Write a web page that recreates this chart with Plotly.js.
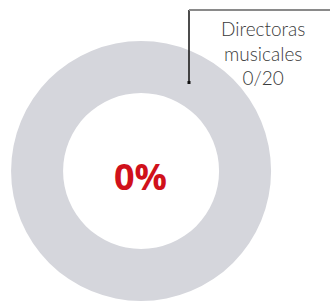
<!DOCTYPE html>
<html>
<head>
<meta charset="utf-8">
<script src="https://cdn.plot.ly/plotly-3.0.1.min.js"></script>
<style>
html,body{margin:0;padding:0;background:#fff;}
#chart{width:330px;height:306px;}
</style>
</head>
<body>
<div id="chart"></div>
<script>
var categories = ["Directoras musicales", "Directores musicales"];
var values = [0, 20];
var centerLabel = "0%";
var calloutLabel = "Directoras<br>musicales<br>0/20";

var trace = {
  type: "pie",
  labels: categories,
  values: values,
  hole: 0.6,
  sort: false,
  direction: "clockwise",
  rotation: 0,
  textinfo: "none",
  hoverinfo: "none",
  showlegend: false,
  marker: {colors: ["#d0111b", "#d5d6dc"], line: {width: 0}},
  domain: {x: [0.031, 0.824], y: [0.0163, 0.866]}
};

var layout = {
  width: 330,
  height: 306,
  margin: {l: 0, r: 0, t: 0, b: 0},
  paper_bgcolor: "#ffffff",
  plot_bgcolor: "#ffffff",
  font: {family: "Lato, 'Open Sans', sans-serif"},
  shapes: [
    {type: "line", xref: "paper", yref: "paper", x0: 189/330, x1: 189/330, y0: 1 - 82/306, y1: 1 - 10/306,
     line: {color: "#111111", width: 1.5}},
    {type: "line", xref: "paper", yref: "paper", x0: 189/330, x1: 1, y0: 1 - 10/306, y1: 1 - 10/306,
     line: {color: "#8a8a8a", width: 2}},
    {type: "rect", xref: "paper", yref: "paper", x0: 187.5/330, x1: 190.5/330, y0: 1 - 84/306, y1: 1 - 81/306,
     fillcolor: "#111111", line: {width: 0}}
  ],
  annotations: [
    {text: "<b>" + centerLabel + "</b>", xref: "paper", yref: "paper", x: 140/330, y: 1 - 176/306,
     showarrow: false, xanchor: "center", yanchor: "middle",
     font: {family: "'Open Sans', sans-serif", size: 36, color: "#d0111b"}},
    {text: calloutLabel, xref: "paper", yref: "paper", x: 263/330, y: 1 - 53/306,
     showarrow: false, xanchor: "center", yanchor: "middle", align: "center",
     font: {family: "Lato, sans-serif", size: 19, weight: 300, color: "#3a3a3a"}}
  ]
};

Plotly.newPlot("chart", [trace], layout, {displayModeBar: false, staticPlot: true});
</script>
</body>
</html>
